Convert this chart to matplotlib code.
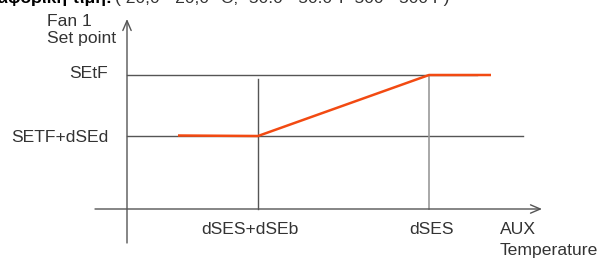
import matplotlib
matplotlib.use("Agg")
import matplotlib.pyplot as plt

# ---- data (x: temperature offset from vertical axis, y: setpoint above horizontal axis)
x_ticks = [131, 302]
x_tick_labels = ["dSES+dSEb", "dSES"]
x_label_pos = [123, 305]
y_levels = [134, 73]
y_level_labels = ["SEtF", "SETF+dSEd"]
y_label_pos = [136, 71]
curve_x = [51, 131, 302, 364]
curve_y = [73.5, 73, 134, 134]
y_title = ["Fan 1", "Set point"]
x_title = ["AUX", "Temperature"]
header_bold = "Διαφορική τιμή:"
header_rest = "( 20,0 - 20,0 °C; -50.0 - 50.0°F 500 - 500 F)"

plt.rcParams['font.family'] = ['Liberation Sans', 'DejaVu Sans']

fig = plt.figure(figsize=(5.98, 2.58), dpi=100)
ax = fig.add_axes([0, 0, 1, 1])
ax.set_xlim(-127, 471)
ax.set_ylim(-49, 209)
ax.axis('off')

axis_col = '#555555'
txt_col = '#333333'

# axes with open arrow heads
ax.annotate('', xy=(415, 0), xytext=(-32, 0),
            arrowprops=dict(arrowstyle='->,head_length=0.7,head_width=0.3', color=axis_col, lw=1.0,
                            shrinkA=0, shrinkB=0))
ax.annotate('', xy=(0, 190), xytext=(0, -34),
            arrowprops=dict(arrowstyle='->,head_length=0.7,head_width=0.3', color=axis_col, lw=1.0,
                            shrinkA=0, shrinkB=0))

# horizontal reference lines
ax.plot([0, 350], [y_levels[0], y_levels[0]], color=axis_col, lw=1.0)
ax.plot([0, 396], [y_levels[1], y_levels[1]], color=axis_col, lw=1.0)

# vertical reference lines
ax.plot([x_ticks[0], x_ticks[0]], [0, 130], color=axis_col, lw=1.0)
ax.plot([x_ticks[1], x_ticks[1]], [0, y_levels[0]], color='#999999', lw=1.2)

# curve
ax.plot(curve_x, curve_y, color='#F24A12', lw=1.8, solid_capstyle='butt')

fs = 12.6
for xv, lab in zip(x_label_pos, x_tick_labels):
    ax.text(xv, -20, lab, ha='center', va='center', fontsize=fs, color=txt_col)
for yv, lab in zip(y_label_pos, y_level_labels):
    ax.text(-19, yv, lab, ha='right', va='center', fontsize=fs, color=txt_col)

ax.text(-80, 188, y_title[0], ha='left', va='center', fontsize=fs, color=txt_col)
ax.text(-80, 171, y_title[1], ha='left', va='center', fontsize=fs, color=txt_col)
ax.text(373, -20, x_title[0], ha='left', va='center', fontsize=fs, color=txt_col)
ax.text(373, -41, x_title[1], ha='left', va='center', fontsize=fs, color=txt_col)

ax.text(-15, 210, header_bold, ha='right', va='center', fontsize=fs, fontweight='bold', color='black')
ax.text(-12, 210, header_rest, ha='left', va='center', fontsize=fs, color=txt_col)

fig.savefig('out.png', dpi=100)
